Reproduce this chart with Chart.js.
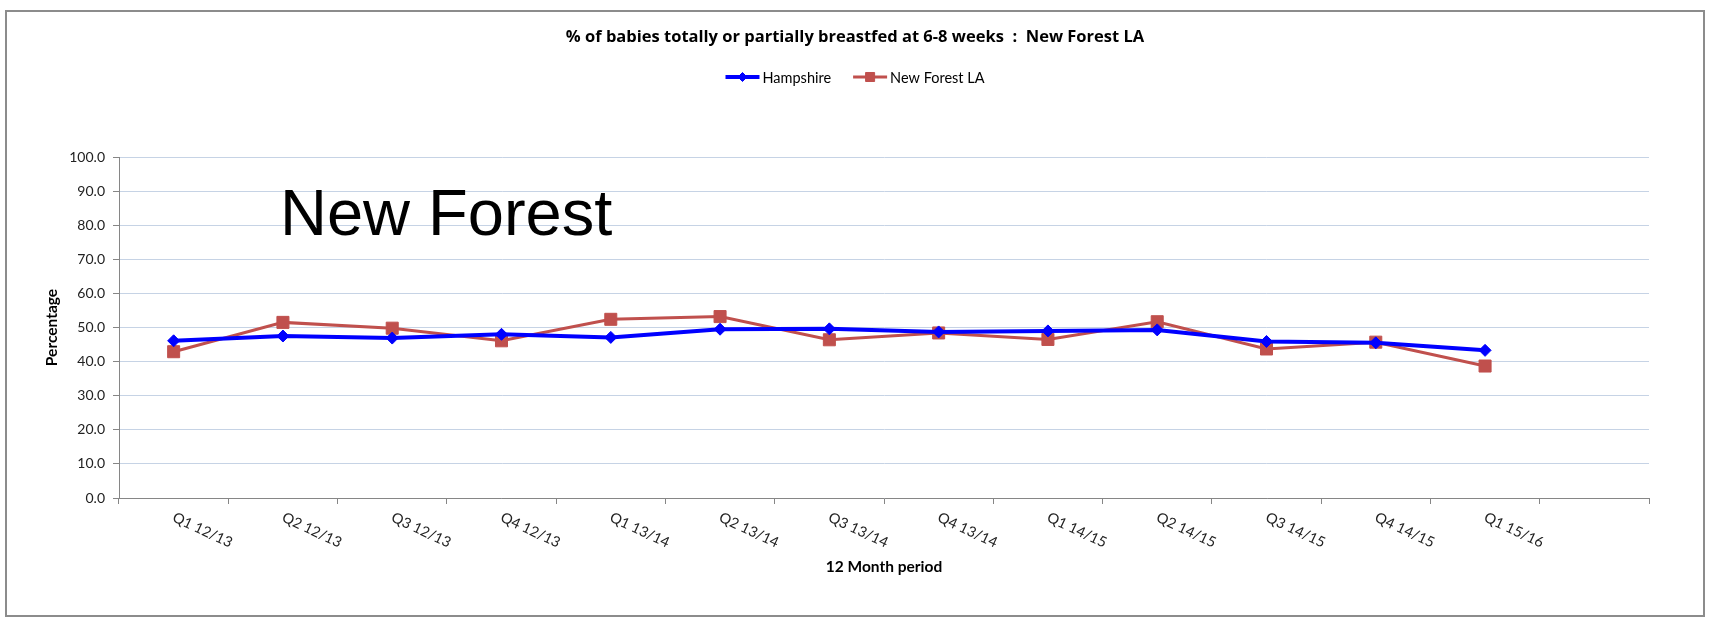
<!DOCTYPE html>
<html>
<head>
<meta charset="utf-8">
<script src="https://cdn.jsdelivr.net/npm/chart.js@4/dist/chart.umd.min.js"></script>
<style>
  html, body { margin: 0; padding: 0; background: #fff; }
  #wrap { width: 1710px; height: 621px; position: relative; }
</style>
</head>
<body>
<div id="wrap"><canvas id="myChart" width="1710" height="621"></canvas></div>
<script>
// Data
const periods = ['Q1 12/13', 'Q2 12/13', 'Q3 12/13', 'Q4 12/13', 'Q1 13/14', 'Q2 13/14', 'Q3 13/14',
                 'Q4 13/14', 'Q1 14/15', 'Q2 14/15', 'Q3 14/15', 'Q4 14/15', 'Q1 15/16', ''];
const hampshire = [46.1, 47.5, 46.9, 48.0, 47.1, 49.5, 49.6, 48.7, 49.0, 49.3, 45.9, 45.5, 43.3, null];
const newForest = [42.9, 51.5, 49.8, 46.1, 52.4, 53.2, 46.4, 48.4, 46.5, 51.7, 43.7, 45.7, 38.7, null];
const yTicks = [0, 10, 20, 30, 40, 50, 60, 70, 80, 90, 100];

const chartTitle = '% of babies totally or partially breastfed at 6-8 weeks  :  New Forest LA';
const overlayText = 'New Forest';

const font = 'Lato, "Open Sans", sans-serif';
const axisGray = '#868686';

// draws frame, title, legend, rotated x labels and the big text
const decorations = {
    id: 'decorations',
    beforeDraw(chart) {
        const ctx = chart.ctx;
        ctx.save();
        ctx.fillStyle = '#fff';
        ctx.fillRect(0, 0, chart.width, chart.height);
        ctx.strokeStyle = '#8c8c8c';
        ctx.lineWidth = 2;
        ctx.strokeRect(6, 11, 1698, 605);
        ctx.restore();
    },
    afterDraw(chart) {
        const ctx = chart.ctx;
        const xs = chart.scales.x;
        const cx = chart.width / 2;
        ctx.save();

        // title
        ctx.fillStyle = '#000';
        ctx.font = 'bold 16.5px "Open Sans", sans-serif';
        ctx.textAlign = 'center';
        ctx.textBaseline = 'middle';
        ctx.fillText(chartTitle, cx, 37);

        // legend
        ctx.font = '14.5px ' + font;
        ctx.textAlign = 'left';
        const lineLen = 34, gap = 3, itemGap = 22;
        const items = chart.data.datasets.map(ds => ({ ds, w: lineLen + gap + ctx.measureText(ds.label).width }));
        const total = items.reduce((s, it) => s + it.w, 0) + itemGap * (items.length - 1);
        let lx = cx - total / 2;
        const ly = 77;
        items.forEach(it => {
            const ds = it.ds;
            ctx.strokeStyle = ds.borderColor;
            ctx.lineWidth = ds.borderWidth;
            ctx.beginPath();
            ctx.moveTo(lx, ly);
            ctx.lineTo(lx + lineLen, ly);
            ctx.stroke();
            ctx.fillStyle = ds.pointBackgroundColor;
            ctx.strokeStyle = ds.pointBorderColor;
            ctx.lineWidth = 1;
            Chart.helpers.drawPoint(ctx, { pointStyle: ds.pointStyle, radius: ds.pointRadius * 0.75, borderWidth: 1 }, lx + lineLen / 2, ly);
            ctx.fillStyle = '#000';
            ctx.fillText(ds.label, lx + lineLen + gap, ly + 1);
            lx += it.w + itemGap;
        });

        // rotated category labels
        ctx.fillStyle = '#222';
        ctx.font = '14.5px ' + font;
        ctx.textBaseline = 'top';
        ctx.textAlign = 'left';
        periods.forEach((p, i) => {
            if (!p) return;
            const x = xs.getPixelForValue(i);
            ctx.save();
            ctx.translate(x + 3, xs.top + 12);
            ctx.rotate(25 * Math.PI / 180);
            ctx.fillText(p, 0, 0);
            ctx.restore();
        });

        // big annotation text
        ctx.fillStyle = '#000';
        ctx.font = '65px "Liberation Sans", Arial, sans-serif';
        ctx.textBaseline = 'alphabetic';
        ctx.fillText(overlayText, 280, 235);
        ctx.restore();
    }
};

const ctx = document.getElementById('myChart').getContext('2d');
new Chart(ctx, {
    type: 'line',
    data: {
        labels: periods,
        datasets: [{
            label: 'Hampshire',
            data: hampshire,
            borderColor: '#0000FF',
            backgroundColor: '#0000FF',
            pointBackgroundColor: '#0000FF',
            pointBorderColor: '#0000FF',
            borderWidth: 4,
            pointStyle: 'rectRot',
            pointRadius: 6,
            pointBorderWidth: 1,
            tension: 0
        }, {
            label: 'New Forest LA',
            data: newForest,
            borderColor: '#C0504D',
            backgroundColor: '#C0504D',
            pointBackgroundColor: '#C0504D',
            pointBorderColor: '#C0504D',
            borderWidth: 3,
            pointStyle: 'rect',
            pointRadius: 8.5,
            pointBorderWidth: 1,
            tension: 0
        }]
    },
    options: {
        responsive: false,
        animation: false,
        layout: { padding: { left: 40, right: 61, top: 157, bottom: 41 } },
        plugins: {
            legend: { display: false },
            title: { display: false },
            tooltip: { enabled: false }
        },
        scales: {
            x: {
                offset: true,
                grid: { offset: true, drawOnChartArea: false, tickLength: 6, tickColor: axisGray, color: axisGray },
                border: { color: axisGray, width: 1 },
                ticks: { display: false },
                title: { display: true, text: '12 Month period', color: '#000', font: { family: font, size: 15.5, weight: 'bold' }, padding: 4 },
                afterFit(scale) { scale.height = 82; }
            },
            y: {
                min: 0,
                max: 100,
                afterBuildTicks(scale) { scale.ticks = yTicks.map(v => ({ value: v })); },
                ticks: {
                    color: '#222',
                    padding: 8,
                    font: { family: font, size: 14 },
                    callback: v => Number(v).toFixed(1)
                },
                grid: { color: '#c6d3e5', lineWidth: 1, tickLength: 6, tickColor: axisGray },
                border: { color: axisGray, width: 1 },
                title: { display: true, text: 'Percentage', color: '#000', font: { family: font, size: 15.5, weight: 'bold' }, padding: 3 },
                afterFit(scale) { scale.width = 79; }
            }
        }
    },
    plugins: [decorations]
});
</script>
</body>
</html>
